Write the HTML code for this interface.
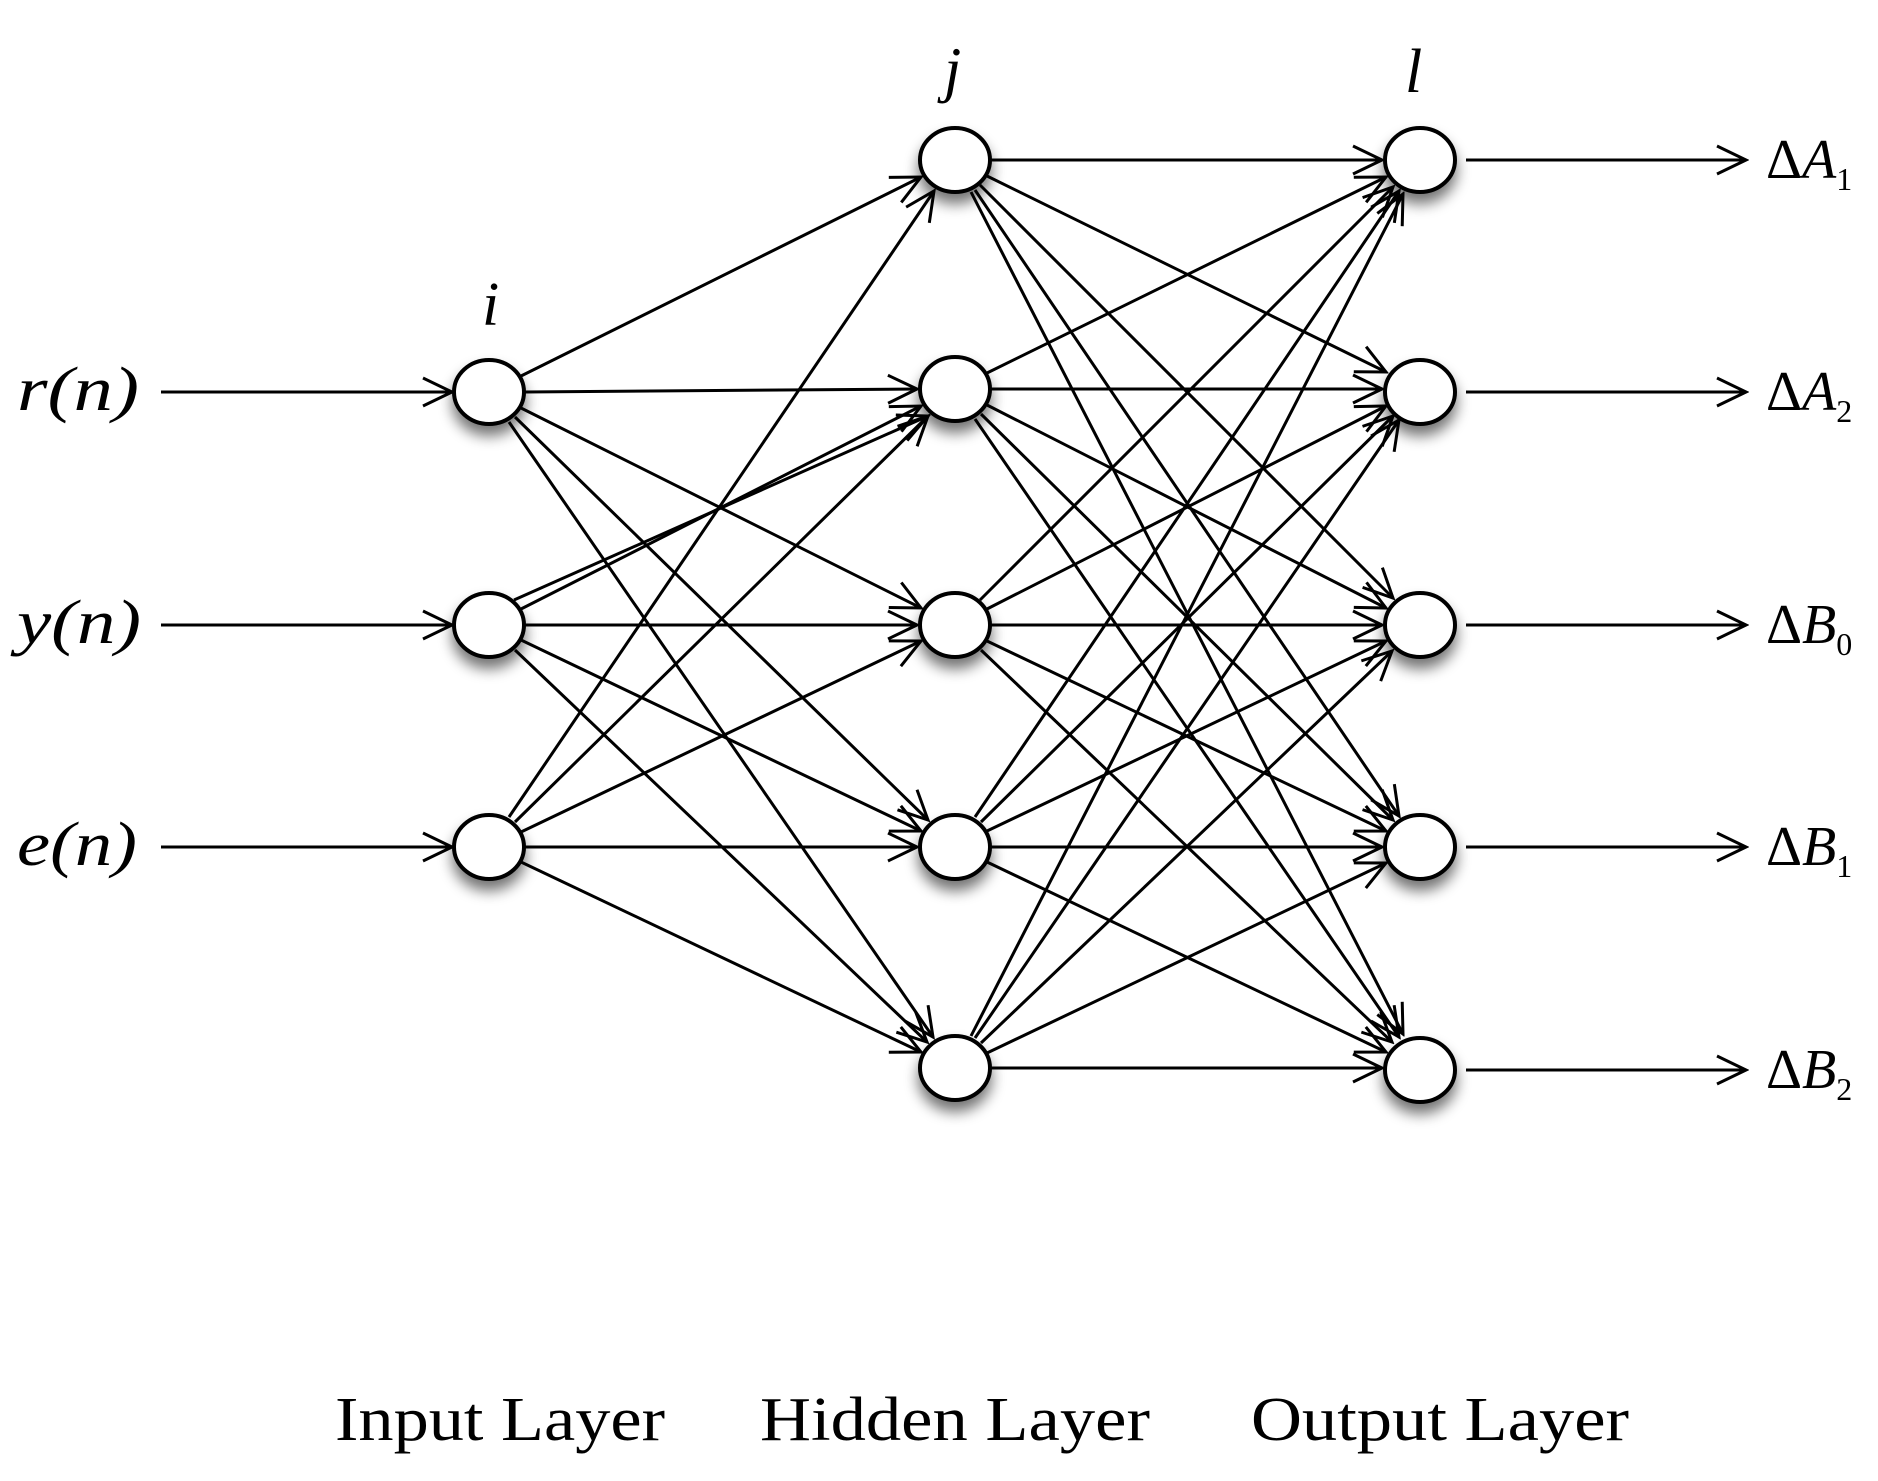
<!DOCTYPE html>
<html><head><meta charset="utf-8"><style>
html,body{margin:0;padding:0;background:#fff;}
svg{display:block;}
text{font-family:"Liberation Serif",serif;fill:#000;}
</style></head><body>
<svg width="1878" height="1481" viewBox="0 0 1878 1481" xmlns="http://www.w3.org/2000/svg">
<defs>
<marker id="a" markerUnits="userSpaceOnUse" markerWidth="36" markerHeight="36" viewBox="0 0 36 36" refX="33" refY="18" orient="auto">
<path d="M4,4 L33,18 L4,32" fill="none" stroke="#000" stroke-width="3"/>
</marker>
<filter id="sh" x="-50%" y="-50%" width="200%" height="220%">
<feGaussianBlur in="SourceAlpha" stdDeviation="7"/>
<feOffset dx="0" dy="10" result="b"/>
<feComponentTransfer><feFuncA type="linear" slope="0.55"/></feComponentTransfer>
<feMerge><feMergeNode/><feMergeNode in="SourceGraphic"/></feMerge>
</filter>
</defs>
<g stroke="#000" stroke-width="3" fill="none" marker-end="url(#a)">
<line x1="161" y1="392" x2="452" y2="392"/>
<line x1="161" y1="625" x2="452" y2="625"/>
<line x1="161" y1="847" x2="452" y2="847"/>
<line x1="521" y1="376" x2="921" y2="177"/>
<line x1="525" y1="392" x2="917" y2="389"/>
<line x1="521" y1="408" x2="921" y2="608"/>
<line x1="515" y1="417" x2="928" y2="820"/>
<line x1="509" y1="422" x2="933" y2="1037"/>
<line x1="514" y1="600" x2="928" y2="416"/>
<line x1="521" y1="609" x2="921" y2="406"/>
<line x1="525" y1="625" x2="917" y2="625"/>
<line x1="521" y1="640" x2="921" y2="831"/>
<line x1="515" y1="650" x2="927" y2="1042"/>
<line x1="509" y1="817" x2="934" y2="191"/>
<line x1="515" y1="822" x2="928" y2="416"/>
<line x1="521" y1="832" x2="921" y2="641"/>
<line x1="525" y1="847" x2="917" y2="847"/>
<line x1="521" y1="862" x2="921" y2="1052"/>
<line x1="991" y1="160" x2="1382" y2="160"/>
<line x1="987" y1="176" x2="1386" y2="372"/>
<line x1="980" y1="185" x2="1393" y2="598"/>
<line x1="975" y1="190" x2="1399" y2="816"/>
<line x1="971" y1="192" x2="1403" y2="1034"/>
<line x1="987" y1="373" x2="1386" y2="177"/>
<line x1="991" y1="389" x2="1382" y2="389"/>
<line x1="987" y1="405" x2="1386" y2="608"/>
<line x1="981" y1="414" x2="1393" y2="820"/>
<line x1="975" y1="419" x2="1399" y2="1037"/>
<line x1="980" y1="600" x2="1393" y2="187"/>
<line x1="987" y1="609" x2="1386" y2="406"/>
<line x1="991" y1="625" x2="1382" y2="625"/>
<line x1="987" y1="641" x2="1386" y2="831"/>
<line x1="981" y1="650" x2="1392" y2="1042"/>
<line x1="975" y1="817" x2="1399" y2="191"/>
<line x1="981" y1="822" x2="1393" y2="416"/>
<line x1="987" y1="831" x2="1386" y2="641"/>
<line x1="991" y1="847" x2="1382" y2="847"/>
<line x1="987" y1="862" x2="1386" y2="1052"/>
<line x1="971" y1="1036" x2="1403" y2="194"/>
<line x1="975" y1="1038" x2="1399" y2="420"/>
<line x1="981" y1="1043" x2="1392" y2="651"/>
<line x1="987" y1="1053" x2="1386" y2="863"/>
<line x1="991" y1="1068" x2="1382" y2="1068"/>
<line x1="1466" y1="160" x2="1746" y2="160"/>
<line x1="1466" y1="392" x2="1746" y2="392"/>
<line x1="1466" y1="625" x2="1746" y2="625"/>
<line x1="1466" y1="847" x2="1746" y2="847"/>
<line x1="1466" y1="1070" x2="1746" y2="1070"/>
</g>
<g fill="#fff" stroke="#000" stroke-width="4" filter="url(#sh)">
<ellipse cx="489" cy="392" rx="35" ry="32"/>
<ellipse cx="489" cy="625" rx="35" ry="32"/>
<ellipse cx="489" cy="847" rx="35" ry="32"/>
<ellipse cx="955" cy="160" rx="35" ry="32"/>
<ellipse cx="955" cy="389" rx="35" ry="32"/>
<ellipse cx="955" cy="625" rx="35" ry="32"/>
<ellipse cx="955" cy="847" rx="35" ry="32"/>
<ellipse cx="955" cy="1068" rx="35" ry="32"/>
<ellipse cx="1420" cy="160" rx="35" ry="32"/>
<ellipse cx="1420" cy="392" rx="35" ry="32"/>
<ellipse cx="1420" cy="625" rx="35" ry="32"/>
<ellipse cx="1420" cy="847" rx="35" ry="32"/>
<ellipse cx="1420" cy="1070" rx="35" ry="32"/>
</g>
<g font-size="62" font-style="italic">
<text x="17" y="410" textLength="122" lengthAdjust="spacingAndGlyphs">r(n)</text>
<text x="17" y="643" textLength="124" lengthAdjust="spacingAndGlyphs">y(n)</text>
<text x="17" y="865" textLength="120" lengthAdjust="spacingAndGlyphs">e(n)</text>
<text x="482" y="325">i</text>
<text x="944" y="90">j</text>
<text x="1405" y="92">l</text>
</g>
<g font-size="56">
<text x="1766" y="178">Δ<tspan font-style="italic">A</tspan><tspan font-size="32" dy="12">1</tspan></text>
<text x="1766" y="410">Δ<tspan font-style="italic">A</tspan><tspan font-size="32" dy="12">2</tspan></text>
<text x="1766" y="643">Δ<tspan font-style="italic">B</tspan><tspan font-size="32" dy="12">0</tspan></text>
<text x="1766" y="865">Δ<tspan font-style="italic">B</tspan><tspan font-size="32" dy="12">1</tspan></text>
<text x="1766" y="1088">Δ<tspan font-style="italic">B</tspan><tspan font-size="32" dy="12">2</tspan></text>
</g>
<g font-size="62">
<text x="335" y="1440" textLength="330" lengthAdjust="spacingAndGlyphs">Input Layer</text>
<text x="760" y="1440" textLength="390" lengthAdjust="spacingAndGlyphs">Hidden Layer</text>
<text x="1251" y="1440" textLength="378" lengthAdjust="spacingAndGlyphs">Output Layer</text>
</g>
</svg>
</body></html>
